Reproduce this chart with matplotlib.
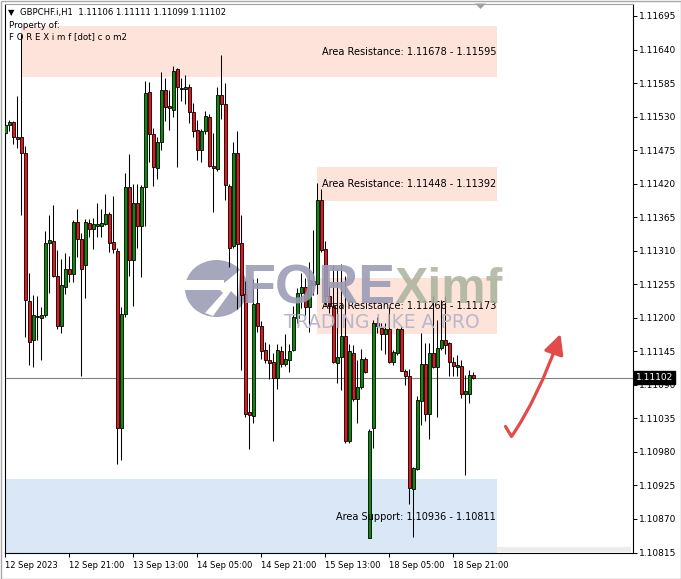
import matplotlib
matplotlib.use("Agg")
import matplotlib.pyplot as plt
from matplotlib.patches import Rectangle, Ellipse, Polygon, FancyArrowPatch
from matplotlib.path import Path
import matplotlib.transforms as mtrans

plt.rcParams['font.family'] = ['DejaVu Sans']

# ---------------- data (GBPCHF.i, H1) ----------------
opens = [1.11503, 1.11516, 1.11521, 1.11496, 1.11496, 1.11471, 1.11228, 1.11163, 1.11203, 1.11200,
         1.11205, 1.11323, 1.11326, 1.11268, 1.11186, 1.11251, 1.11280, 1.11271, 1.11357, 1.11330,
         1.11286, 1.11355, 1.11345, 1.11350, 1.11351, 1.11354, 1.11371, 1.11324, 1.11310, 1.11019,
         1.11206, 1.11414, 1.11295, 1.11388, 1.11350, 1.11414, 1.11570, 1.11501, 1.11445, 1.11488,
         1.11574, 1.11547, 1.11541, 1.11608, 1.11577, 1.11575, 1.11578, 1.11537, 1.11508, 1.11476,
         1.11506, 1.11530, 1.11449, 1.11444, 1.11566, 1.11550, 1.11416, 1.11317, 1.11470, 1.11322,
         1.11239, 1.11045, 1.11039, 1.11224, 1.11186, 1.11147, 1.11131, 1.11127, 1.11101, 1.11146,
         1.11124, 1.11131, 1.11147, 1.11199, 1.11240, 1.11250, 1.11217, 1.11261, 1.11256, 1.11393,
         1.11312, 1.11236, 1.11220, 1.11126, 1.11135, 1.11170, 1.10998, 1.11143, 1.11066, 1.11086,
         1.11132, 1.10839, 1.11020, 1.11191, 1.11184, 1.11174, 1.11181, 1.11127, 1.11142, 1.11181,
         1.11113, 1.11105, 1.10919, 1.10952, 1.11064, 1.11124, 1.11042, 1.11143, 1.11119, 1.11150,
         1.11164, 1.11158, 1.11128, 1.11120, 1.11121, 1.11075, 1.11075, 1.11106]
highs = [1.11523, 1.11524, 1.11523, 1.11564, 1.11665, 1.11482, 1.11273, 1.11238, 1.11236, 1.11218,
         1.11343, 1.11369, 1.11385, 1.11311, 1.11296, 1.11307, 1.11302, 1.11361, 1.11379, 1.11339,
         1.11362, 1.11362, 1.11363, 1.11388, 1.11379, 1.11403, 1.11373, 1.11400, 1.11314, 1.11218,
         1.11437, 1.11468, 1.11419, 1.11420, 1.11418, 1.11588, 1.11587, 1.11511, 1.11496, 1.11603,
         1.11593, 1.11574, 1.11613, 1.11609, 1.11593, 1.11599, 1.11584, 1.11553, 1.11525, 1.11509,
         1.11539, 1.11535, 1.11503, 1.11579, 1.11631, 1.11585, 1.11420, 1.11489, 1.11506, 1.11369,
         1.11261, 1.11076, 1.11263, 1.11265, 1.11195, 1.11161, 1.11157, 1.11142, 1.11157, 1.11154,
         1.11173, 1.11157, 1.11220, 1.11249, 1.11274, 1.11265, 1.11291, 1.11344, 1.11421, 1.11412,
         1.11326, 1.11252, 1.11287, 1.11281, 1.11288, 1.11269, 1.11157, 1.11156, 1.11131, 1.11148,
         1.11135, 1.11017, 1.11197, 1.11202, 1.11191, 1.11191, 1.11218, 1.11147, 1.11183, 1.11187,
         1.11116, 1.11116, 1.10955, 1.11072, 1.11175, 1.11158, 1.11158, 1.11236, 1.11197, 1.11229,
         1.11236, 1.11161, 1.11136, 1.11139, 1.11131, 1.11106, 1.11115, 1.11111]
lows = [1.11490, 1.11506, 1.11485, 1.11478, 1.11369, 1.11169, 1.11122, 1.11120, 1.11163, 1.11130,
        1.11202, 1.11241, 1.11267, 1.11182, 1.11175, 1.11239, 1.11258, 1.11258, 1.11299, 1.11104,
        1.11233, 1.11332, 1.11313, 1.11333, 1.11332, 1.11352, 1.11308, 1.11307, 1.10960, 1.10967,
        1.11201, 1.11268, 1.11220, 1.11314, 1.11267, 1.11350, 1.11456, 1.11416, 1.11428, 1.11475,
        1.11522, 1.11508, 1.11530, 1.11447, 1.11555, 1.11550, 1.11519, 1.11497, 1.11459, 1.11456,
        1.11502, 1.11447, 1.11374, 1.11441, 1.11526, 1.11394, 1.11284, 1.11314, 1.11214, 1.11115,
        1.11038, 1.10985, 1.11027, 1.11176, 1.11132, 1.11126, 1.11100, 1.10998, 1.11083, 1.11120,
        1.11121, 1.11111, 1.11146, 1.11191, 1.11216, 1.11202, 1.11177, 1.11238, 1.11239, 1.11308,
        1.11221, 1.11208, 1.11126, 1.11093, 1.11082, 1.10994, 1.10995, 1.11063, 1.11028, 1.11083,
        1.11110, 1.10839, 1.10986, 1.11175, 1.11147, 1.11140, 1.11126, 1.11123, 1.11139, 1.11112,
        1.11089, 1.10894, 1.10840, 1.10951, 1.11024, 1.11030, 1.11001, 1.11117, 1.11038, 1.11147,
        1.11141, 1.11105, 1.11104, 1.11104, 1.11068, 1.10942, 1.11061, 1.11099]
closes = [1.11516, 1.11521, 1.11497, 1.11494, 1.11471, 1.11229, 1.11161, 1.11204, 1.11201, 1.11204,
          1.11323, 1.11327, 1.11269, 1.11187, 1.11253, 1.11280, 1.11271, 1.11357, 1.11330, 1.11280,
          1.11357, 1.11345, 1.11354, 1.11354, 1.11356, 1.11371, 1.11323, 1.11312, 1.11020, 1.11206,
          1.11415, 1.11295, 1.11388, 1.11350, 1.11414, 1.11569, 1.11502, 1.11447, 1.11488, 1.11574,
          1.11545, 1.11544, 1.11605, 1.11578, 1.11575, 1.11578, 1.11537, 1.11506, 1.11476, 1.11506,
          1.11531, 1.11449, 1.11445, 1.11565, 1.11550, 1.11417, 1.11315, 1.11470, 1.11321, 1.11238,
          1.11042, 1.11041, 1.11222, 1.11187, 1.11146, 1.11131, 1.11126, 1.11101, 1.11147, 1.11124,
          1.11133, 1.11146, 1.11201, 1.11240, 1.11250, 1.11218, 1.11262, 1.11253, 1.11393, 1.11311,
          1.11236, 1.11220, 1.11127, 1.11136, 1.11170, 1.10998, 1.11146, 1.11066, 1.11087, 1.11132,
          1.11111, 1.11015, 1.11191, 1.11186, 1.11174, 1.11181, 1.11127, 1.11144, 1.11181, 1.11113,
          1.11105, 1.10920, 1.10953, 1.11065, 1.11124, 1.11042, 1.11143, 1.11120, 1.11151, 1.11164,
          1.11156, 1.11128, 1.11121, 1.11123, 1.11075, 1.11080, 1.11106, 1.11102]

time_tick_bars = [0, 16, 32, 48, 64, 80, 96, 112]
time_tick_labels = ["12 Sep 2023", "12 Sep 21:00", "13 Sep 13:00", "14 Sep 05:00",
                    "14 Sep 21:00", "15 Sep 13:00", "18 Sep 05:00", "18 Sep 21:00"]
price_ticks = [1.11695, 1.11640, 1.11585, 1.11530, 1.11475, 1.11420, 1.11365, 1.11310, 1.11255,
               1.11200, 1.11145, 1.11090, 1.11035, 1.10980, 1.10925, 1.10870, 1.10815]
current_price = 1.11102

zone_labels = ["Area Resistance: 1.11678 - 1.11595", "Area Resistance: 1.11448 - 1.11392",
               "Area Resistance: 1.11266 - 1.11173", "Area Support: 1.10936 - 1.10811"]
zone_high = [1.11678, 1.11448, 1.11266, 1.10936]
zone_low = [1.11595, 1.11392, 1.11173, 1.10811]
zone_start_bar = [4, 78, 78, -5]
zone_end_bar = 123
zone_colors = ['#fde3d9', '#fde3d9', '#fde3d9', '#d9e7f7']

header = "GBPCHF.i,H1  1.11106 1.11111 1.11099 1.11102"

# ---------------- figure ----------------
W, H = 681, 579
fig = plt.figure(figsize=(W / 100, H / 100), dpi=100)
fig.patch.set_facecolor('white')

def F(x, y):
    return (x / W, 1 - y / H)

L, R, T, B = 4.5, 632.5, 3.5, 552.5
ax = fig.add_axes([L / W, 1 - B / H, (R - L) / W, (B - T) / H])
ax.set_facecolor('white')

# price scale: 1.11695 at y=16, 1.10815 at y=552.7
def p_at(y):
    return 1.11695 - (y - 16) * (0.0088 / 536.7)

ax.set_xlim(-0.125, (R - L) / 4 - 0.125)
ax.set_ylim(p_at(B), p_at(T))

for s in ax.spines.values():
    s.set_color('black')
    s.set_linewidth(0.8)
ax.spines['top'].set_color('#a0a0a0')

# zones
for lab, hi, lo, st, col in zip(zone_labels, zone_high, zone_low, zone_start_bar, zone_colors):
    ax.add_patch(Rectangle((st, lo), zone_end_bar - st, hi - lo, facecolor=col,
                           edgecolor='none', zorder=0.5))
    ax.text(zone_end_bar - 0.25, (hi + lo) / 2, lab, ha='right', va='center',
            fontsize=7, color='black', zorder=6)

# watermark logo
ell = Ellipse(F(216.5, 288.5), 63 / W, 57 / H, facecolor='#9c9cb6', edgecolor='none', alpha=0.9)
ell.set_transform(fig.transFigure)
ax.add_artist(ell)
ell.set_clip_on(False)
cut = Polygon([F(184, 280), F(224, 280), F(224, 290), F(184, 290)], closed=True,
              facecolor='white', edgecolor='none', transform=fig.transFigure, zorder=1.1)
ax.add_artist(cut)
cut.set_clip_on(False)
arrow_w = Polygon([F(205, 313), F(223, 293), F(218, 288), F(240, 270), F(238, 298), F(231, 291),
                   F(213, 316)], closed=True, facecolor='white', edgecolor='none',
                  transform=fig.transFigure, zorder=1.1)
ax.add_artist(arrow_w)
arrow_w.set_clip_on(False)
fig.text(*F(241, 290), "FORE", fontsize=40, fontweight='bold', color='#9c9cb6',
         family='Liberation Sans', ha='left', va='center', alpha=0.9, zorder=1)
fig.text(*F(395, 290), "Ximf", fontsize=36, fontweight='bold', color='#a9b39f',
         family='Liberation Sans', ha='left', va='center', alpha=0.85, zorder=1)
fig.text(*F(284, 323), "TRADING LIKE A PRO", fontsize=13.5, color='#b8b8ca',
         ha='left', va='center', zorder=1)

# current price line
ax.axhline(current_price, color='#808080', lw=0.8, zorder=2)

# candles
bw = 0.75
for i, (o, h, l, c) in enumerate(zip(opens, highs, lows, closes)):
    ax.plot([i, i], [l, h], color='black', lw=0.75, zorder=3, solid_capstyle='butt')
    col = '#0b8a0b' if c > o else ('#e8141b' if c < o else 'black')
    lo_b, hi_b = min(o, c), max(o, c)
    ax.add_patch(Rectangle((i - bw / 2, lo_b), bw, max(hi_b - lo_b, 1e-6),
                           facecolor=col, edgecolor='black', lw=0.6, zorder=4))

# axes ticks
ax.yaxis.tick_right()
ax.set_yticks(price_ticks)
ax.set_yticklabels([f"{p:.5f}" for p in price_ticks])
ax.tick_params(axis='y', direction='out', length=3, width=0.7, pad=2, labelsize=6.5,
               colors='black', right=True, left=False)
ax.set_xticks(time_tick_bars)
ax.set_xticklabels(time_tick_labels)
for t in ax.get_xticklabels():
    t.set_ha('left')
ax.tick_params(axis='x', direction='out', length=3, width=0.7, pad=3, labelsize=6.0,
               colors='black')

# current price tag
tr = mtrans.blended_transform_factory(ax.transAxes, ax.transData)
ax.text(1 + 3.5 / (R - L), current_price, f"{current_price:.5f}", transform=tr,
        ha='left', va='center', fontsize=6.5, color='white', clip_on=False, zorder=10,
        bbox=dict(facecolor='black', edgecolor='black', boxstyle='square,pad=0.18'))

# header texts
fig.text(*F(8, 12.5), "\u25BC", fontsize=6, ha='left', va='center', color='black')
fig.text(*F(20, 12.5), header, fontsize=6.1, ha='left', va='center', color='black')
fig.text(*F(9, 25.5), "Property of:", fontsize=6.3, ha='left', va='center', color='black')
fig.text(*F(9, 37), "F O R E X i m f [dot] c o m2", fontsize=6.2, ha='left', va='center',
         color='black')

# chart shift marker & bottom strip
fig.add_artist(Polygon([F(475, 3.5), F(486, 3.5), F(480.5, 9)], closed=True,
                       facecolor='#a0a0a0', edgecolor='none', transform=fig.transFigure))
fig.add_artist(Rectangle(F(497, 552), 134 / W, 5 / H, facecolor='#ececec',
                         edgecolor='none', transform=fig.transFigure))

# red arrow
verts = [F(505.5, 426.5), F(511.5, 436.5), F(538, 398), F(560.5, 334)]
codes = [Path.MOVETO, Path.LINETO, Path.CURVE3, Path.CURVE3]
arr = FancyArrowPatch(path=Path(verts, codes), arrowstyle='-|>,head_length=12,head_width=6',
                      mutation_scale=1, color='#e34b4b', lw=2.3, transform=fig.transFigure,
                      shrinkA=0, shrinkB=0, capstyle='round', joinstyle='round')
fig.add_artist(arr)

# outer window border
fig.add_artist(Rectangle((0.5 / W, 0.5 / H), (W - 1) / W, (H - 1) / H, facecolor='none',
                         edgecolor='#a8a8a8', lw=1, transform=fig.transFigure))

fig.savefig("out.png", dpi=100)
